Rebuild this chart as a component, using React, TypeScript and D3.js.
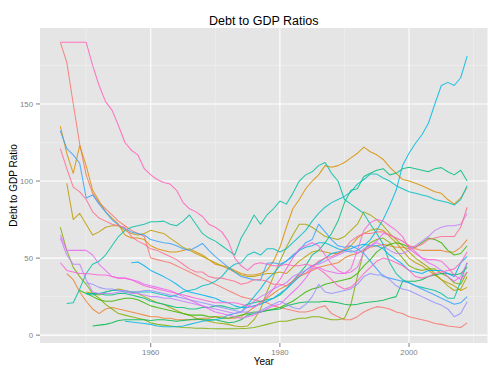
import React from "react";
import * as d3 from "d3";

const FIRST_YEAR = 1946;
const LAST_YEAR = 2009;

const countries = [
  "Australia", "Austria", "Belgium", "Canada", "Denmark", "Finland", "France",
  "Germany", "Greece", "Ireland", "Italy", "Japan", "Netherlands", "New Zealand",
  "Norway", "Portugal", "Spain", "Sweden", "UK", "US",
];

const colors = [
  "#F8766D", "#EA8331", "#D89000", "#C09B00", "#A3A500", "#7CAE00", "#39B600",
  "#00BB4E", "#00BF7D", "#00C1A3", "#00BFC4", "#00BAE0", "#00B0F6", "#35A2FF",
  "#9590FF", "#C77CFF", "#E76BF3", "#FA62DB", "#FF62BC", "#FF6C91",
];

const _ = null;

// values by year, 1946..2009
const australia = [190,177,150,124, 104,92,86,82,78,74,71,68,66,64, 50,49,48,47,45,43,41,39,37,35, 33,31,29,27,25,24,23,22,21,19, 18,17,16,15,15,16,18,19,14,12, 10,10,12,15,17,18.5,18,17,15,14, 12,11,10,9,7.5,7,6,5.5,5,8];
const austria = [_,40,36,28, 22,17,14,17,18,17,16,15,14,13, 12,12,11,11,10,10,10,10,11,11, 12,12,11,11,12,15,18,21,24,27, 30,32,35,38,40,42,44,45,46,47, 50,52,53,55,57,58,59,58,57,57, 56,56,55,55,55,55,54,54,57,62];
const belgium = [135.7,118,105,123, 110,94,87,80,76,72,65,63,63,62, 58,56,55,54,54,55,56,54,52,49, 46,45,44,42,40,39,39,40,42,48, 57,70,82,88,95,100,104,110,109,110, 112,115,118,122,119,117,114,109,105,101, 100,98.5,97,95,93,92,88,85,89,96];
const canada = [_,98.5,75,79, 72,65,67,70,71,71,68,66,65,66, 68,67,66,63,60,57,55,53,51,49, 47,45,43,41,39,38,38,39,40,40, 41,40,44,48,51,54,55,54,53,53, 55,58,63,66,68,69,68,64,60,55, 50,47,45,42,39,36,34,32,29,31];
const denmark = [_,_,_,_, 28,27,26,28,29,30,29,28,27,25, 23,21,20,18,16,14,13,11,10,9, 8,7.5,7,6,5.5,6,10,17,28,38, 48,57,65,72,72,70,67,64,63,62, 64,68,72,80,78,75,71,66,62,58, 54,50,47,44,40,36,32,29,30,38];
const finland = [70,55,44,38, 33,27,24,20,17,14,13,12,11,10, 8,7,6.5,6,5.5,5,4.8,4.5,4.5,4.3, 4.2,4.2,4.2,4.2,4.3,4.5,5,6,7,8, 9,9,10,11,11,12,12,11,10,10, 11,20,38,55,60,62,63,60,55,50, 45,43,42,43,43,40,38,34,33,41];
const france = [_,_,_,29, 27,25,23,22,22,23,24,24,23,21, 19,18,17,16,15,14,13,13,13,12, 12,11,11,12,13,14,15,15,16,17, 18,20,22,25,28,30,31,33,34,35, 36,37,40,45,49,54,57,59,60,59, 57,57,60,63,62,60,55,52,53,58];
const germany = [_,_,_,_, _,6,6.5,7,8,9.5,10,10,10,10, 9.5,10,10,9.5,9,9.5,10,10.5,10,10, 10,9,8,8.5,10,13,14,15,16,16.5, 17,19,20,21,21.5,21.5,21.5,22,21.6,21, 20,19.5,20,21,21.5,22,22.7,24,25,35, 35,35,36,38,39,40,40,39,40,44];
const greece = [_,_,_,_, 27,27,27,26,26,27,27,26,25,24, 22,21,20,19,18,18,17,17,18,18, 19,19,18,17,18,20,21,22,23,24, 26,30,35,40,45,52,55,60,66,74, 86,94,95,103,105,107,108,104,105,108, 109,108,107,106,108,108.7,106,104,107,100];
const ireland = [_,20.6,21,30, 40,46,48,52,58,64,68,70,71,72, 73.6,73.6,74,72,71,74,78,72,66,63, 61,58,55,52,63,70,78,72,78,82, 87,85,92,100,104,106,110,112,105,100, 88,85,82,79,72,66,59,47,40,36, 34,32,31,30,29,27,24,24,35,47];
const italy = [_,_,_,_, 27,26,27,28,29,29,28,28,28,28, 28,27,26,25,26,28,29,30,32,33, 35,38,43,46,47,52,54,52,56,56, 54,56,60,64,68,74,79,83,86,88, 90,93,98,101,104.5,104.5,102,100,97,95, 93,92,91,90,88,87,86,84.4,88,97];
const japan = [_,_,_,_, _,_,_,_,_,_,9,8.5,8,7.5, 7,6,5.5,5.5,5.5,6,7,8,9,9.5, 10,11,13,14,15,20,25,30,36,40, 45,48,51,55,57,58,60,60,58,56, 55,54,55,58,62,68,75,84,94,110, 118,124.5,130,137.5,150,162,164,162,167,181];
const netherlands = [_,_,_,_, _,_,_,_,_,_,_,47,47.5,45, 42,40,38,35.7,33,30,28,27,26,25, 24,22,21,19,18,18,19,20,22,24, 27,30,34,38,42,45,47,50,53,54, 55,56,58,59,58,58,56,52,49,46, 42,41,40,42,42,42,40,38,47,51];
const newZealand = [132.6,121,117,111.5, 89,91,85,80,75,71.4,69,67,66,65, 62,61,60,59.5,58,56,55,57,59.5,55, 51,47.6,44,41,38,37,36,35.7,46.6,47, 46,48,52,55,60,62,72,67,62,58, 57,58,56,53,48,43,38,37,36,35, 34,32,30,28,26,24,22,20,21,25];
const norway = [_,_,_,_, 34,33,31,30,30,29,29,28,28,29, 29,28,27,26,25,24,23,22,21,20, 19,18,17,16,15,15,14,16,18,20, 22,20,18,17,20,25,33,28,27,28, 29,30,33,38,40,39,39,36,32,30, 29,27,25,23,21,19.5,17,12,14,21.6];
const portugal = [63,52,46,46, 36,28,27,27,27,28,28,27,27,26, 25,25,24,24,23,22,21,20,19,18, 17,16,15,14,15,18,22,25,27,30, 32,34,38,40,42,45,46,48,50,52, 54,55,53,56,58,60,58,55,53,53, 55,58,61,64,68,70,71,71,72,79];
const spain = [65,55,55,55, 55,52,46,42,38,37,37,36,35,33, 32,31,30,29,27,25,23,21,19,17, 15,14,13,12,11,12,13,15,17,19, 20,24,28,32,37,43,44,42,41,40, 40,41,44,54,58,61,66,65,63,61, 58,54,50,47,45,42,38,35,38,47];
const sweden = [47,42,41,40, 40,39.5,39,39,38,37,37,36,34,32, 31,30,29,28,27,26,25,24,23,22, 21,21,21,21,20,19,18,21,25,30, 36,43,50,56,58,60,58,52,46,42, 40,43,55,68,73,75,74,71,68,64, 56,53,50,49,49,48,44,39,36,41];
const uk = [190,190,190,190, 190,175,162,151.5,146,136,125,120,117,108, 104,101,99,98,94,86,82,80,77,72, 70,67,61,50,45,42,46,47,46,45, 45,46,45,45,46,45,43,40,36,32, 30,31,35,40,44,48,50,49,47,45, 42,38,37,38,40,41,42,43,47,54];
const us = [121,108,96,93, 88,80,76,74,72,71,70,64,61,59, 56,55,53,51,49,46,43,41,41,38, 37,37,36,35,33,34,36,36,35,33, 33,32,35,39,40,44,48,50,51,53, 56,61,64,66,66,67,67,65,63,61, 58,57,59,62,63,64,64,64,70,83];

const seriesValues: (number | null)[][] = [
  australia, austria, belgium, canada, denmark, finland, france, germany, greece,
  ireland, italy, japan, netherlands, newZealand, norway, portugal, spain, sweden, uk, us,
];

const xMajor = [1960, 1980, 2000];
const xMinor = [1950, 1970, 1990, 2010];
const yMajor = [0, 50, 100, 150];
const yMinor = [25, 75, 125, 175];

const FONT = "'Liberation Sans', Arial, Helvetica, sans-serif";

export default function App() {
  const W = 500, H = 375;
  const left = 40, right = 487.5, top = 28, bottom = 343;

  const all = seriesValues.flat().filter((v) => v != null) as number[];
  const [ymin, ymax] = d3.extent(all) as [number, number];
  const yr = ymax - ymin;
  const y = d3.scaleLinear().domain([ymin - 0.05 * yr, ymax + 0.05 * yr]).range([bottom, top]);
  const xr = LAST_YEAR - FIRST_YEAR;
  const x = d3.scaleLinear().domain([FIRST_YEAR - 0.05 * xr, LAST_YEAR + 0.05 * xr]).range([left, right]);

  const line = d3
    .line<[number, number | null]>()
    .defined((d) => d[1] != null)
    .x((d) => x(d[0]))
    .y((d) => y(d[1] as number));

  return (
    <svg width={W} height={H} style={{ position: "fixed", left: 0, top: 0, background: "#fff" }}>
      <rect x={left} y={top} width={right - left} height={bottom - top} fill="#E5E5E5" />
      {xMinor.filter((v) => x(v) <= right).map((v) => (
        <line key={"xm" + v} x1={x(v)} x2={x(v)} y1={top} y2={bottom} stroke="#F2F2F2" strokeWidth={0.6} />
      ))}
      {yMinor.map((v) => (
        <line key={"ym" + v} x1={left} x2={right} y1={y(v)} y2={y(v)} stroke="#F2F2F2" strokeWidth={0.6} />
      ))}
      {xMajor.map((v) => (
        <line key={"xM" + v} x1={x(v)} x2={x(v)} y1={top} y2={bottom} stroke="#FFFFFF" strokeWidth={1.1} />
      ))}
      {yMajor.map((v) => (
        <line key={"yM" + v} x1={left} x2={right} y1={y(v)} y2={y(v)} stroke="#FFFFFF" strokeWidth={1.1} />
      ))}
      <g clipPath="url(#clip)">
        <clipPath id="clip">
          <rect x={left} y={top} width={right - left} height={bottom - top} />
        </clipPath>
        {seriesValues.map((vals, i) => (
          <path
            key={countries[i]}
            d={line(vals.map((v, j) => [FIRST_YEAR + j, v] as [number, number | null])) || ""}
            fill="none"
            stroke={colors[i]}
            strokeOpacity={0.85}
            strokeWidth={1.05}
            strokeLinejoin="round"
          />
        ))}
      </g>
      {xMajor.map((v) => (
        <g key={"xt" + v}>
          <line x1={x(v)} x2={x(v)} y1={bottom} y2={bottom + 4} stroke="#7F7F7F" strokeWidth={1} />
          <text x={x(v)} y={355} textAnchor="middle" fontFamily={FONT} fontSize={7.8} fill="#7F7F7F">
            {v}
          </text>
        </g>
      ))}
      {yMajor.map((v) => (
        <g key={"yt" + v}>
          <line x1={left - 4} x2={left} y1={y(v)} y2={y(v)} stroke="#7F7F7F" strokeWidth={1} />
          <text x={33} y={y(v) + 2.8} textAnchor="end" fontFamily={FONT} fontSize={7.8} fill="#7F7F7F">
            {v}
          </text>
        </g>
      ))}
      <text x={(left + right) / 2} y={25} textAnchor="middle" fontFamily={FONT} fontSize={12.5} fill="#000">
        Debt to GDP Ratios
      </text>
      <text x={(left + right) / 2} y={365} textAnchor="middle" fontFamily={FONT} fontSize={10} fill="#000">
        Year
      </text>
      <text
        transform={`translate(17, ${(top + bottom) / 2}) rotate(-90)`}
        textAnchor="middle"
        fontFamily={FONT}
        fontSize={10}
        fill="#000"
      >
        Debt to GDP Ratio
      </text>
    </svg>
  );
}
